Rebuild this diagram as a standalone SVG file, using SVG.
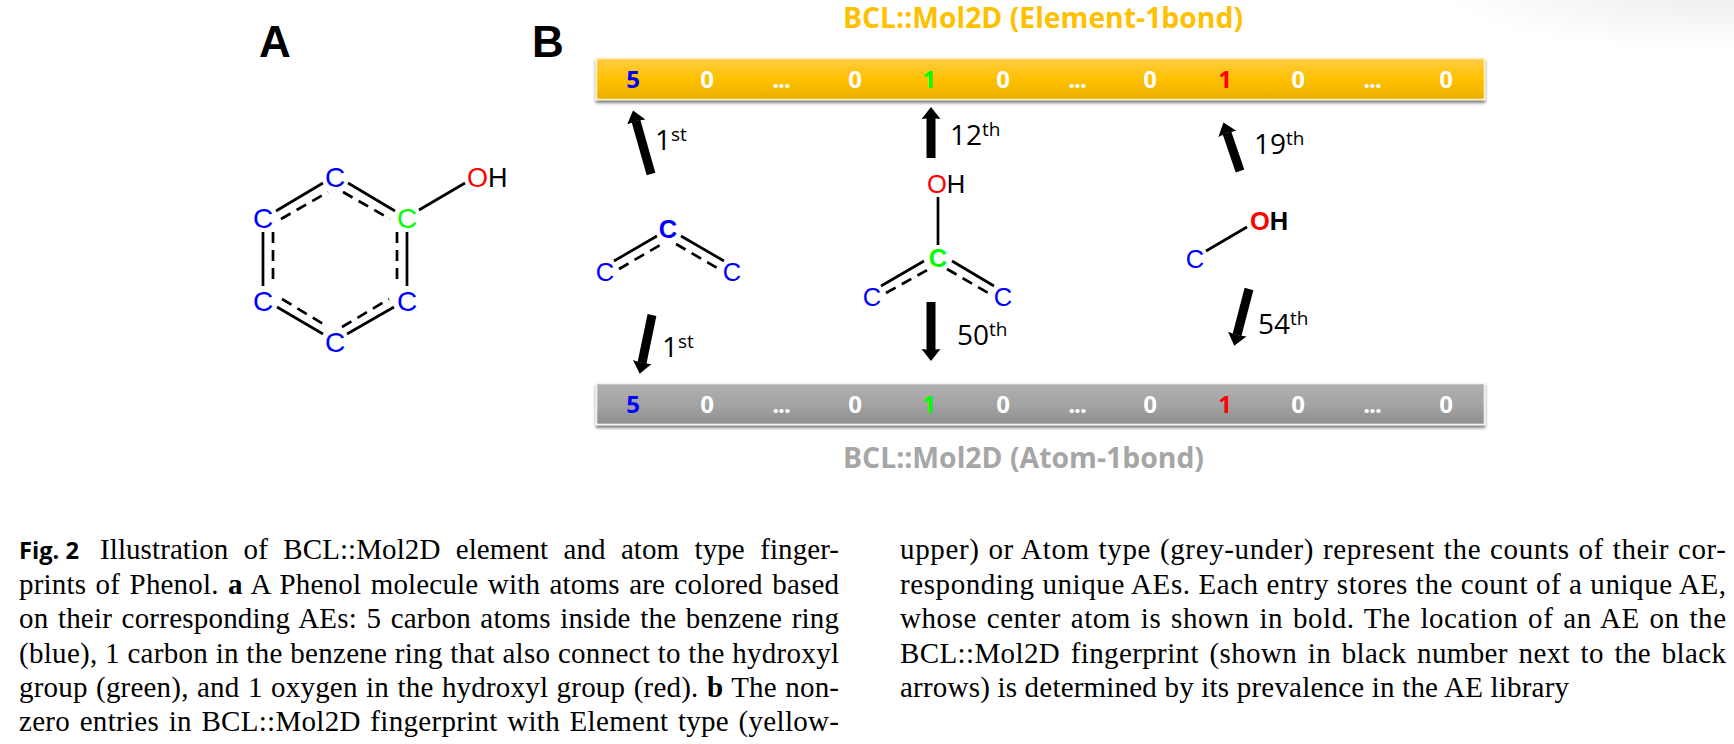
<svg xmlns="http://www.w3.org/2000/svg" width="1734" height="744" viewBox="0 0 1734 744">
<style>
.atom{font-family:"Liberation Sans",Arial,sans-serif;font-size:28px;text-anchor:middle}
.oh{font-size:27px}
.small{font-size:25.5px}
.b{font-weight:700}
.blue{fill:#0000ff}.green{fill:#00ff00}.red{fill:#ff0000}.black{fill:#000}
.bond{stroke:#000;stroke-width:2.7;fill:none}
.dash{stroke-dasharray:11 7}
.arrow{stroke:#000;stroke-width:9;fill:none;marker-end:url(#head)}
.panel{font-family:"Liberation Sans",Arial,sans-serif;font-size:44px;font-weight:700;fill:#000}
.title{font-family:"Open Sans",sans-serif;font-size:28px;font-weight:700}
.d{font-family:"Open Sans",sans-serif;font-size:24px;font-weight:700;text-anchor:middle;fill:#fff}
.lab{font-family:"Open Sans",sans-serif;font-size:28px;fill:#000}
.sup{font-size:19px}
.cap{font-family:"Liberation Serif","Times New Roman",serif;font-size:29px;fill:#000}
.fig{font-family:"Open Sans",sans-serif;font-size:24px;font-weight:700;fill:#000}
</style>
<defs>
<marker id="head" markerUnits="userSpaceOnUse" markerWidth="13" markerHeight="22" viewBox="0 0 13 22" refX="1" refY="11" orient="auto">
<path d="M0 1.5L12 11L0 20.5L1 11Z" fill="#000"/>
</marker>
<linearGradient id="yel" x1="0" y1="0" x2="0" y2="1">
<stop offset="0" stop-color="#ffcd45"/><stop offset=".5" stop-color="#ffc000"/><stop offset=".78" stop-color="#f4b800"/><stop offset="1" stop-color="#e5ae00"/>
</linearGradient>
<linearGradient id="gry" x1="0" y1="0" x2="0" y2="1">
<stop offset="0" stop-color="#b0b0b0"/><stop offset=".5" stop-color="#a4a4a4"/><stop offset="1" stop-color="#8e8e8e"/>
</linearGradient>
<radialGradient id="corner"><stop offset="0" stop-color="#ececec"/><stop offset="1" stop-color="#ffffff"/></radialGradient>
<filter id="sh" x="-2%" y="-20%" width="104%" height="150%"><feDropShadow dx="0" dy="2.5" stdDeviation="1.5" flood-color="#000" flood-opacity=".55"/></filter>
</defs>
<rect width="1734" height="744" fill="#fff"/>
<ellipse cx="1710" cy="-12" rx="270" ry="62" fill="url(#corner)"/>

<text id="label-a" class="panel" x="259" y="57">A</text>
<text id="label-b" class="panel" x="532" y="57">B</text>

<g id="title-element"><text class="title" x="843" y="28" fill="#ffc000" textLength="400" lengthAdjust="spacingAndGlyphs">BCL::Mol2D (Element-1bond)</text></g>
<g id="title-atom"><text class="title" x="843" y="468" fill="#a6a6a6" textLength="361" lengthAdjust="spacingAndGlyphs">BCL::Mol2D (Atom-1bond)</text></g>

<g id="bar-element">
<rect x="596.5" y="58.5" width="888" height="41" fill="url(#yel)" stroke="#fff0c0" stroke-width="1.6" filter="url(#sh)"/>
<text class="d" x="633" y="88" style="fill:#0000ff">5</text><text class="d" x="707" y="88">0</text><text class="d" x="781" y="88" letter-spacing="-1">...</text><text class="d" x="855" y="88">0</text><text class="d" x="929" y="88" style="fill:#00ff00">1</text><text class="d" x="1003" y="88">0</text><text class="d" x="1077" y="88" letter-spacing="-1">...</text><text class="d" x="1150" y="88">0</text><text class="d" x="1225" y="88" style="fill:#ff0000">1</text><text class="d" x="1298" y="88">0</text><text class="d" x="1372" y="88" letter-spacing="-1">...</text><text class="d" x="1446" y="88">0</text>
</g>
<g id="bar-atom">
<rect x="596.5" y="383.5" width="888" height="41" fill="url(#gry)" stroke="#f4f4f4" stroke-width="1.6" filter="url(#sh)"/>
<text class="d" x="633" y="413" style="fill:#0000ff">5</text><text class="d" x="707" y="413">0</text><text class="d" x="781" y="413" letter-spacing="-1">...</text><text class="d" x="855" y="413">0</text><text class="d" x="929" y="413" style="fill:#00ff00">1</text><text class="d" x="1003" y="413">0</text><text class="d" x="1077" y="413" letter-spacing="-1">...</text><text class="d" x="1150" y="413">0</text><text class="d" x="1225" y="413" style="fill:#ff0000">1</text><text class="d" x="1298" y="413">0</text><text class="d" x="1372" y="413" letter-spacing="-1">...</text><text class="d" x="1446" y="413">0</text>
</g>

<g id="connectors">
<g id="bonds-phenol">
<path class="bond" d="M276 211L323 183M348 183L395 211M407 232V286M263 232V286M277 307L323 334M347 334L394 307M419 210L465 183"/>
<path class="bond dash" d="M281 219L328 192M343 192L390 219M397 232V286M273 232V286M282 299L328 327M342 327L389 299"/>
</g>
<g id="bonds-ae1">
<path class="bond" d="M614 261L657 236M681 236L724 261"/>
<path class="bond dash" d="M619 269L662 244M676 244L719 269"/>
</g>
<g id="bonds-ae2">
<path class="bond" d="M938 197V245M881 286L924 261M952 261L994 286"/>
<path class="bond dash" d="M886 293L929 269M947 269L990 294"/>
</g>
<g id="bonds-ae3"><path class="bond" d="M1206 251L1247 227"/></g>
<g id="arrows">
<line class="arrow" x1="651" y1="174" x2="636" y2="121"/>
<line class="arrow" x1="931" y1="158" x2="931" y2="118"/>
<line class="arrow" x1="1240" y1="171" x2="1227" y2="133"/>
<line class="arrow" x1="652" y1="315" x2="642" y2="363"/>
<line class="arrow" x1="931" y1="302" x2="931" y2="350"/>
<line class="arrow" x1="1249" y1="289" x2="1237" y2="335"/>
</g>
</g>

<g id="phenol">
<text class="atom blue" x="335" y="187">C</text>
<text class="atom green" x="407" y="228">C</text>
<text class="atom blue" x="407" y="311">C</text>
<text class="atom blue" x="263" y="228">C</text>
<text class="atom blue" x="263" y="311">C</text>
<text class="atom blue" x="335" y="352">C</text>
<text class="atom oh" x="467" y="187" style="text-anchor:start"><tspan class="red">O</tspan><tspan class="black">H</tspan></text>
</g>
<g id="ae-1">
<text class="atom small b blue" x="668" y="238">C</text>
<text class="atom small blue" x="605" y="281">C</text>
<text class="atom small blue" x="732" y="281">C</text>
</g>
<g id="ae-2">
<text class="atom small" x="927" y="193" style="text-anchor:start"><tspan class="red">O</tspan><tspan class="black">H</tspan></text>
<text class="atom small b green" x="938" y="267">C</text>
<text class="atom small blue" x="872" y="306">C</text>
<text class="atom small blue" x="1003" y="306">C</text>
</g>
<g id="ae-3">
<text class="atom small b" x="1250" y="230" style="text-anchor:start"><tspan class="red">O</tspan><tspan class="black">H</tspan></text>
<text class="atom small blue" x="1195" y="268">C</text>
</g>

<g id="rank-labels">
<text class="lab" x="655" y="150">1<tspan class="sup" dy="-9">st</tspan></text>
<text class="lab" x="950" y="145">12<tspan class="sup" dy="-9">th</tspan></text>
<text class="lab" x="1254" y="154">19<tspan class="sup" dy="-9">th</tspan></text>
<text class="lab" x="662" y="357">1<tspan class="sup" dy="-9">st</tspan></text>
<text class="lab" x="957" y="345">50<tspan class="sup" dy="-9">th</tspan></text>
<text class="lab" x="1258" y="334">54<tspan class="sup" dy="-9">th</tspan></text>
</g>

<g id="caption">
<text class="fig" x="19" y="559" textLength="60" lengthAdjust="spacingAndGlyphs">Fig. 2</text>
<text class="cap" x="100" y="559" textLength="739" word-spacing="8">Illustration of BCL::Mol2D element and atom type finger-</text>
<text class="cap" x="19" y="593.5" textLength="820" word-spacing="2">prints of Phenol. <tspan font-weight="700">a</tspan> A Phenol molecule with atoms are colored based</text>
<text class="cap" x="19" y="628" textLength="820" word-spacing="2">on their corresponding AEs: 5 carbon atoms inside the benzene ring</text>
<text class="cap" x="19" y="662.5" textLength="820" word-spacing="0">(blue), 1 carbon in the benzene ring that also connect to the hydroxyl</text>
<text class="cap" x="19" y="697" textLength="820" word-spacing="1">group (green), and 1 oxygen in the hydroxyl group (red). <tspan font-weight="700">b</tspan> The non-</text>
<text class="cap" x="19" y="731" textLength="820" word-spacing="2">zero entries in BCL::Mol2D fingerprint with Element type (yellow-</text>
<text class="cap" x="900" y="559" textLength="826" word-spacing="1">upper) or Atom type (grey-under) represent the counts of their cor-</text>
<text class="cap" x="900" y="593.5" textLength="826" word-spacing="0">responding unique AEs. Each entry stores the count of a unique AE,</text>
<text class="cap" x="900" y="628" textLength="826" word-spacing="2">whose center atom is shown in bold. The location of an AE on the</text>
<text class="cap" x="900" y="662.5" textLength="826" word-spacing="3">BCL::Mol2D fingerprint (shown in black number next to the black</text>
<text class="cap" x="900" y="697" textLength="669">arrows) is determined by its prevalence in the AE library</text>
</g>
</svg>
